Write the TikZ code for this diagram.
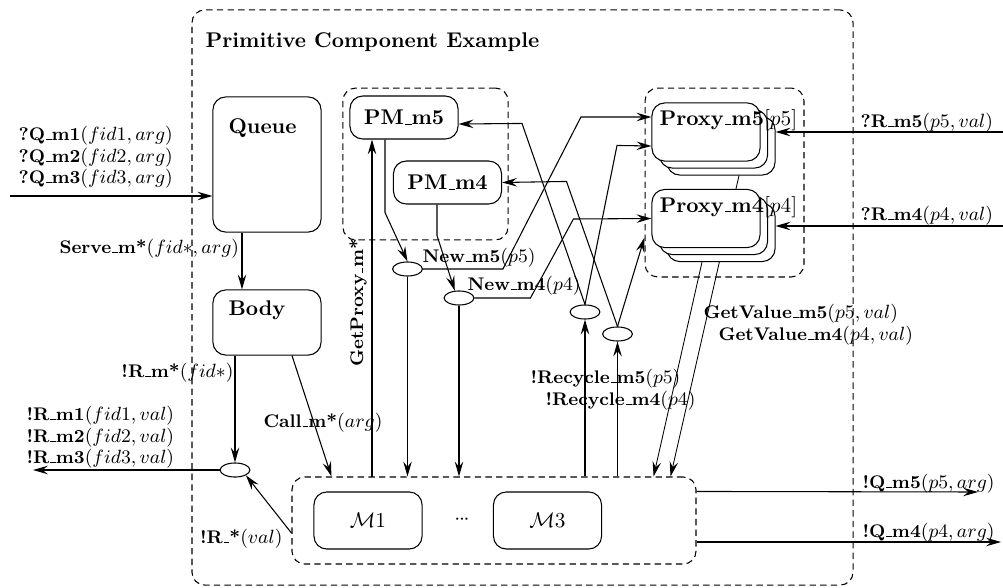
\documentclass[tikz,border=0pt]{standalone}
\usetikzlibrary{arrows.meta,shapes.geometric,calc,positioning,backgrounds}

% short underscore, as in the old OT1 fonts
\newcommand{\us}{\kern.06em\vbox{\hrule height .5pt width .3em}}

\tikzset{
  cbox/.style={draw, fill=white, rounded corners=6pt, minimum width=50.8pt, inner sep=0pt},
  grpbox/.style={draw, dash pattern=on 3pt off 2pt, rounded corners=6pt, inner sep=0pt, line width=0.5pt},
  junc/.style={draw, ellipse, minimum width=14pt, minimum height=6.6pt, inner sep=0pt},
  lbl/.style={font=\fontsize{8.6}{10}\selectfont, inner sep=0pt},
}

\begin{document}
\begin{tikzpicture}[x=0.47pt, y=-0.47pt, line width=0.5pt,
    >={Stealth[length=7pt,width=4pt,inset=2.5pt]}]
    \useasboundingbox (0,0) rectangle (1003,587);

    % the component and its groups
    \node[grpbox, minimum width=310.7pt, minimum height=270.3pt] (comp) at (522.5,297.5) {};
    \node[anchor=base west, font=\bfseries, inner sep=0pt] (title) at (205,47) {Primitive Component Example};
    \node[grpbox, minimum width=77.6pt, minimum height=71.4pt] (pmgrp) at (425.5,164) {};
    \node[grpbox, minimum width=74.7pt, minimum height=88.8pt] (pxgrp) at (724.5,182.5) {};
    \node[grpbox, minimum width=189.9pt, minimum height=40.9pt] (mods) at (494,520.5) {};

    % queue and body
    \node[cbox, minimum height=63.5pt] (queue) at (267,164.5) {};
    \node[anchor=base west, font=\bfseries, inner sep=0pt] (queuetxt) at (228,133) {Queue};
    \node[cbox, minimum height=30.6pt] (body) at (267,322.5) {};
    \node[anchor=base west, font=\bfseries, inner sep=0pt] (bodytxt) at (228,315) {Body};
    \node[junc] (rj) at (235,470) {};

    % methods
    \node[cbox, minimum height=26.8pt] (m1) at (368,520.5) {$\mathcal{M}1$};
    \node[inner sep=0pt] (dots) at (462,520) {${\cdot}\mkern-1mu{\cdot}\mkern-1mu{\cdot}$};
    \node[cbox, minimum height=26.8pt] (m3) at (547.5,520.5) {$\mathcal{M}3$};

    % proxy managers
    \node[cbox, minimum height=20.2pt, font=\bfseries] (pm5) at (404,117.5) {PM\us m5};
    \node[cbox, minimum height=20.2pt, font=\bfseries] (pm4) at (447.5,182.5) {PM\us m4};
    \node[junc] (nm5) at (407.5,269) {};
    \node[junc] (nm4) at (459,298) {};
    \node[junc] (rc5) at (585,312) {};
    \node[junc] (rc4) at (617.5,334) {};

    % proxies, three deep
    \node[cbox, minimum height=27.3pt] (px5b) at (721,146) {};
    \node[cbox, minimum height=27.3pt] (px5a) at (713.5,139) {};
    \node[cbox, minimum height=27.3pt] (px5) at (706,132) {};
    \node[anchor=base west, inner sep=0pt] (px5txt) at (659,125) {\textbf{Proxy\us m5}$[p5]$};
    \node[cbox, minimum height=27.3pt] (px4b) at (721,232.5) {};
    \node[cbox, minimum height=27.3pt] (px4a) at (713.5,225.5) {};
    \node[cbox, minimum height=27.3pt] (px4) at (706,218.5) {};
    \node[anchor=base west, inner sep=0pt] (px4txt) at (659,212) {\textbf{Proxy\us m4}$[p4]$};

    % free ends
    \coordinate (qin) at (10,196);
    \coordinate (rout) at (33,470);
    \coordinate (gp) at (372,477);
    \coordinate (r5in) at (1003,132);
    \coordinate (r4in) at (1003,226);
    \coordinate (q5out) at (978,492);
    \coordinate (q4out) at (1001,542);

    % requests and replies
    \draw[->] (qin) -- (queue.west |- qin);
    \draw[->] ($(queue.south)+(-25,0)$) -- ($(body.north)+(-25,0)$);
    \draw[->] (rj |- body.south) -- (rj.north);
    \draw[->] (rj.west) -- (rout);
    \draw[->] ($(body.south)+(25,0)$) -- ($(mods.north west)+(40,0)$);
    \draw[->] ($(mods.west)+(0,12.5)$) -- (rj.south east);

    % proxy creation
    \draw[->] (gp) -- (gp |- pm5.south);
    \draw[->] ($(pm5.south)+(-19,0)$) -- ++(0,73) -- (nm5.north);
    \draw[->] ($(pm4.south)+(-10.5,0)$) -- ++(0,31) -- (nm4.120);
    \draw[->] (nm5.east) -- ++(80,0) -- ++(78,-152) -- ($(px5.west)+(0,-15)$);
    \draw[->] (nm4.east) -- ++(56,0) -- ++(43,-79) -- (px4.west);
    \draw[->] (nm5.south) -- (nm5 |- mods.north);
    \draw[->] (nm4.south) -- (nm4 |- mods.north);

    % recycling
    \draw[->] (rc5 |- mods.north) -- (rc5.south);
    \draw[->] (rc4 |- mods.north) -- (rc4.south);
    \draw[->] (rc5.north) -- ++(-63,-181) -- ($(pm5.east)+(0,6.5)$);
    \draw[->] (rc5.north) -- ++(32,-159) -- ($(px5.west)+(0,14)$);
    \draw[->] (rc4.north) -- ++(-51,-145) -- (pm4.east);
    \draw[->] (rc4.north) -- ($(pxgrp.west)+(0,55)$);

    % values go behind the proxies
    \begin{scope}[on background layer]
        \draw[->] ($(px5b.south)+(18,0)$) -- ($(mods.north east)+(-26,0)$);
        \draw[->] ($(px4b.south)+(-19,0)$) -- ($(mods.north east)+(-43,0)$);
    \end{scope}

    % outside
    \draw[->] (r5in) -- (px5b.east |- r5in);
    \draw[->] (r4in) -- (px4b.east |- r4in);
    \draw[->] ($(mods.north east)+(0,15)$) -- (q5out);
    \draw[->] ($(mods.east)+(0,21.5)$) -- (q4out);

    % labels
    \node[lbl, anchor=base west] (lq1) at (18,140) {\textbf{?Q\us m1}$(fid1, arg)$};
    \node[lbl, anchor=base west] (lq2) at (18,162) {\textbf{?Q\us m2}$(fid2, arg)$};
    \node[lbl, anchor=base west] (lq3) at (18,183) {\textbf{?Q\us m3}$(fid3, arg)$};
    \node[lbl, anchor=base west] (lserve) at (59,253) {\textbf{Serve\us m*}$(fid*, arg)$};
    \node[lbl, anchor=base east] (lrm) at (234,377) {\textbf{!R\us m*}$(fid*)$};
    \node[lbl, anchor=base west] (lr1) at (26,420) {\textbf{!R\us m1}$(fid1, val)$};
    \node[lbl, anchor=base west] (lr2) at (26,442) {\textbf{!R\us m2}$(fid2, val)$};
    \node[lbl, anchor=base west] (lr3) at (26,463) {\textbf{!R\us m3}$(fid3, val)$};
    \node[lbl, anchor=base west] (lcall) at (263,427) {\textbf{Call\us m*}$(arg)$};
    \node[lbl, anchor=base east] (lrv) at (283,543) {\textbf{!R\us *}$(val)$};
    \node[lbl, anchor=base west, rotate=90] (lgp) at (363,367) {\textbf{GetProxy\us m*}};
    \node[lbl, anchor=base west] (lnm5) at (422,262) {\textbf{New\us m5}$(p5)$};
    \node[lbl, anchor=base west] (lnm4) at (467,290) {\textbf{New\us m4}$(p4)$};
    \node[lbl, anchor=base west] (lrc5) at (530,383) {\textbf{!Recycle\us m5}$(p5)$};
    \node[lbl, anchor=base west] (lrc4) at (545,405) {\textbf{!Recycle\us m4}$(p4)$};
    \node[lbl, anchor=base west] (lgv5) at (703,318) {\textbf{GetValue\us m5}$(p5, val)$};
    \node[lbl, anchor=base west] (lgv4) at (718,340) {\textbf{GetValue\us m4}$(p4, val)$};
    \node[lbl, anchor=base west] (lr5) at (860,127) {\textbf{?R\us m5}$(p5, val)$};
    \node[lbl, anchor=base west] (lr4) at (860,220) {\textbf{?R\us m4}$(p4, val)$};
    \node[lbl, anchor=base west] (lq5) at (862,488) {\textbf{!Q\us m5}$(p5, arg)$};
    \node[lbl, anchor=base west] (lq4) at (862,537) {\textbf{!Q\us m4}$(p4, arg)$};
\end{tikzpicture}
\end{document}
